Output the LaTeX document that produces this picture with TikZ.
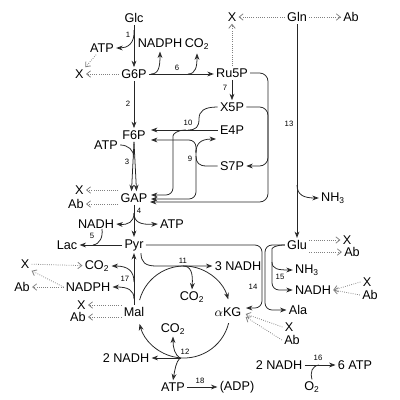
\documentclass[tikz,border=0pt]{standalone}
\usepackage{fontspec}
\setmainfont{Liberation Sans}
\usetikzlibrary{positioning,arrows.meta,calc}
\newcommand{\chemsub}[1]{\textsubscript{#1}}
\newcommand{\cotwo}{CO\chemsub{2}}
\tikzset{
  met/.style={font=\fontsize{9}{10}\selectfont, inner sep=1.5pt},
  rnum/.style={font=\fontsize{5.5}{6}\selectfont, inner sep=0.5pt},
  flux/.style={draw=black!85, line width=0.55pt},
  fluxarrow/.style={flux, -{Stealth[length=1.6mm, width=1.2mm, inset=0.5mm, fill=black!45]}},
  leak/.style={draw=black!50, line width=0.55pt, densely dotted, -{Straight Barb[length=1mm, width=1.6mm]}}
}

\begin{document}
\begin{tikzpicture}[x=0.25mm, y=-0.25mm]
  \useasboundingbox (0,0) rectangle (400,400);
  % main column
  \node[met] (glc) at (134,18) {Glc};
  \node[met] (gsix) at (134,74) {G6P};
  \node[met] (fsix) at (134,135) {F6P};
  \node[met] (gap) at (134,198) {GAP};
  \node[met] (pyr) at (134,245) {Pyr};
  \node[met] (mal) at (134,312) {Mal};
  \node[met] (lac) at (67,245) {Lac};
  % pentose phosphates
  \node[met] (rufive) at (232,73) {Ru5P};
  \node[met] (xfive) at (232,107) {X5P};
  \node[met] (efour) at (232,130) {E4P};
  \node[met] (sseven) at (232,166) {S7P};
  % side metabolites
  \node[met] (atpone) at (102,48) {ATP};
  \node[met, anchor=east] (xgsix) at (86,74) {X};
  \node[met] (nadphsix) at (160,43) {NADPH};
  \node[met] (cosix) at (197,44) {\cotwo};
  \node[met] (xru) at (232,17) {X};
  \node[met] (gln) at (297,17) {Gln};
  \node[met] (abgln) at (351,17) {Ab};
  \node[met] (atpthree) at (106,145) {ATP};
  \node[met, anchor=east] (xgap) at (86,190) {X};
  \node[met, anchor=east] (abgap) at (86,204) {Ab};
  \node[met] (nadhfour) at (96,224) {NADH};
  \node[met] (atpfour) at (172,224) {ATP};
  \node[met] (nhthirteen) at (333,198) {NH\chemsub{3}};
  \node[met] (glu) at (297,245) {Glu};
  \node[met] (xglu) at (347,240) {X};
  \node[met] (abglu) at (352,252) {Ab};
  \node[met] (nadheleven) at (238,266) {3 NADH};
  \node[met] (coeleven) at (192,297) {\cotwo};
  \node[met] (xleft) at (25,264) {X};
  \node[met] (ableft) at (22,287) {Ab};
  \node[met] (coseventeen) at (97,266) {\cotwo};
  \node[met] (nadphseventeen) at (88,287) {NADPH};
  \node[met, anchor=east] (xmal) at (88,305) {X};
  \node[met, anchor=east] (abmal) at (88,317) {Ab};
  \node[met] (akg) at (228,312) {$\alpha$KG};
  \node[met] (ala) at (298,310) {Ala};
  \node[met] (xakg) at (289,327) {X};
  \node[met] (abakg) at (292,340) {Ab};
  \node[met] (nhfifteen) at (307,270) {NH\chemsub{3}};
  \node[met] (nadhfifteen) at (313,290) {NADH};
  \node[met] (xnadh) at (367,282) {X};
  \node[met] (abnadh) at (370,295) {Ab};
  \node[met] (cotwelve) at (173,329) {\cotwo};
  \node[met] (nadhtwelve) at (126,358) {2 NADH};
  \node[met] (atptwelve) at (173,387) {ATP};
  \node[met] (adp) at (237,387) {(ADP)};
  \node[met] (nadhsixteen) at (279,365) {2 NADH};
  \node[met] (atpsixteen) at (355,365) {6 ATP};
  \node[met] (otwo) at (312,387) {O\chemsub{2}};
  % reaction numbers
  \node[rnum] (rone) at (128,35) {1};
  \node[rnum] (rtwo) at (128,104) {2};
  \node[rnum] (rthree) at (127,162) {3};
  \node[rnum] (rfour) at (139,211) {4};
  \node[rnum] (rfive) at (92,236) {5};
  \node[rnum] (rsix) at (177,68) {6};
  \node[rnum] (rseven) at (225,88) {7};
  \node[rnum] (rnine) at (190,159) {9};
  \node[rnum] (rten) at (188,123) {10};
  \node[rnum] (releven) at (183,261) {11};
  \node[rnum] (rtwelve) at (185,352) {12};
  \node[rnum] (rthirteen) at (289,124) {13};
  \node[rnum] (rfourteen) at (253,287) {14};
  \node[rnum] (rfifteen) at (280,277) {15};
  \node[rnum] (rsixteen) at (318,358) {16};
  \node[rnum] (rseventeen) at (125,279) {17};
  \node[rnum] (reighteen) at (200,381) {18};

  % glycolysis
  \draw[fluxarrow] (glc) -- (gsix);
  \draw[fluxarrow] (134,30) .. controls (135,44) and (127,48) .. (atpone.east);
  \draw[leak] (atpone) -- (xgsix);
  \draw[leak] (gsix) -- (xgsix);
  \draw[fluxarrow] (gsix) -- (fsix);
  \draw[fluxarrow] (fsix.south) -- ($(gap.north)+(-2.5,0)$);
  \draw[fluxarrow] (fsix.south) -- ($(gap.north)+(2.5,0)$);
  \draw[flux] (atpthree.east) .. controls (128,145) and (134,150) .. (134,158);
  \draw[leak] (gap.west |- xgap) -- (xgap.east);
  \draw[leak] (gap.west |- abgap) -- (abgap.east);
  \draw[fluxarrow] (gap) -- (pyr);
  \draw[fluxarrow] (134,213) .. controls (134,222) and (128,225) .. (nadhfour.east);
  \draw[fluxarrow] (134,213) .. controls (134,222) and (140,225) .. (atpfour.west);
  \draw[fluxarrow] (pyr) -- (lac);
  \draw[flux] (102,229) .. controls (103,237) and (100,244) .. (93,245);

  % pentose phosphate pathway
  \draw[fluxarrow] (gsix) -- (gsix -| rufive.west);
  \draw[fluxarrow, shorten >=1.3pt] (151,74) .. controls (159,74) and (160,66) .. (nadphsix.south);
  \draw[fluxarrow, shorten >=1.3pt] (188,74) .. controls (196,74) and (197,66) .. (cosix.south);
  \draw[leak] (rufive) -- (xru);
  \draw[leak] (gln) -- (xru);
  \draw[leak] (gln) -- (abgln);
  \draw[fluxarrow] (rufive) -- (xfive);
  \draw[fluxarrow, rounded corners=6pt] (rufive.east) -- (268,73) -- (268,202) -- (150,202);
  \draw[fluxarrow, rounded corners=6pt] (xfive.east) -- (268,107) -- (268,166) -- (sseven.east);
  \draw[fluxarrow] (efour.west) -- (151,130);
  \draw[flux] (xfive.west) .. controls (204,107) and (199,111) .. (199,119) .. controls (199,127) and (196,130) .. (188,130);
  \draw[fluxarrow, rounded corners=5pt] (186,130) .. controls (177,130) and (173,134) .. (173,143) -- (173,195) -- (151,195);
  \draw[fluxarrow, rounded corners=5pt] (196,152) -- (196,140) -- (151,140);
  \draw[fluxarrow, rounded corners=5pt] (196,150) -- (196,199) -- (151,199);
  \draw[fluxarrow] (196,153) .. controls (196,144) and (200,139) .. (216,139);
  \draw[flux] (sseven.west) -- (207,166) .. controls (199,166) and (196,163) .. (196,156);

  % glutamine, glutamate
  \draw[fluxarrow] (gln) -- (glu);
  \draw[fluxarrow] (297,185) .. controls (297,195) and (304,198) .. (nhthirteen.west);
  \draw[leak] (glu.east |- xglu) -- (xglu.west);
  \draw[leak] (glu.east |- abglu) -- (abglu.west);
  \draw[fluxarrow, rounded corners=5pt] (pyr.east) -- (262,245) -- (262,308) -- (246,308);
  \draw[fluxarrow, rounded corners=5pt] (glu.west) -- (265,245) -- (265,310) -- (ala.west);
  \draw[fluxarrow, rounded corners=5pt] (glu.west) .. controls (275,245) and (272,248) .. (272,256) -- (272,290) -- (nadhfifteen.west);
  \draw[fluxarrow] (272,262) .. controls (272,269) and (278,270) .. (nhfifteen.west);
  \draw[leak] (xnadh.west) -- (nadhfifteen.east);
  \draw[leak] (abnadh.west) -- (nadhfifteen.east);
  \draw[leak] (xakg.west) -- ($(akg.east)+(2,2)$);
  \draw[leak] (abakg.west) -- ($(akg.east)+(2,5)$);

  % TCA cycle
  \draw[fluxarrow] ($(pyr.south)+(7,0)$) .. controls (141,262) and (145,266) .. (156,266) -- (nadheleven.west);
  \draw[fluxarrow] (183,266) .. controls (191,266) and (193,273) .. (coeleven.north);
  \draw[fluxarrow] (184,312) ++(195:46) arc[start angle=195, end angle=344, radius=46];
  \draw[fluxarrow] (184,312) ++(14:46) arc[start angle=14, end angle=165, radius=46];
  \draw[fluxarrow] (181,358) -- (nadhtwelve.east);
  \draw[fluxarrow] (180,358) .. controls (175,355) and (173,348) .. (cotwelve.south);
  \draw[fluxarrow] (180,358) .. controls (176,362) and (175,369) .. (atptwelve.north);
  \draw[fluxarrow] (atptwelve) -- (adp);

  % malic enzyme
  \draw[fluxarrow] (mal) -- (pyr);
  \draw[fluxarrow] (134,282) .. controls (134,271) and (128,266) .. (coseventeen.east);
  \draw[fluxarrow] (134,299) .. controls (134,290) and (128,287) .. (nadphseventeen.east);
  \draw[leak] (xleft) -- (coseventeen);
  \draw[leak] (nadphseventeen.west) -- (xleft.south east);
  \draw[leak] (nadphseventeen) -- (ableft);
  \draw[leak] (mal.west |- xmal) -- (xmal.east);
  \draw[leak] (mal.west |- abmal) -- (abmal.east);

  % oxidative phosphorylation
  \draw[fluxarrow] (nadhsixteen) -- (atpsixteen);
  \draw[flux] (otwo.north) .. controls (310,372) and (312,366) .. (319,365);
\end{tikzpicture}
\end{document}
